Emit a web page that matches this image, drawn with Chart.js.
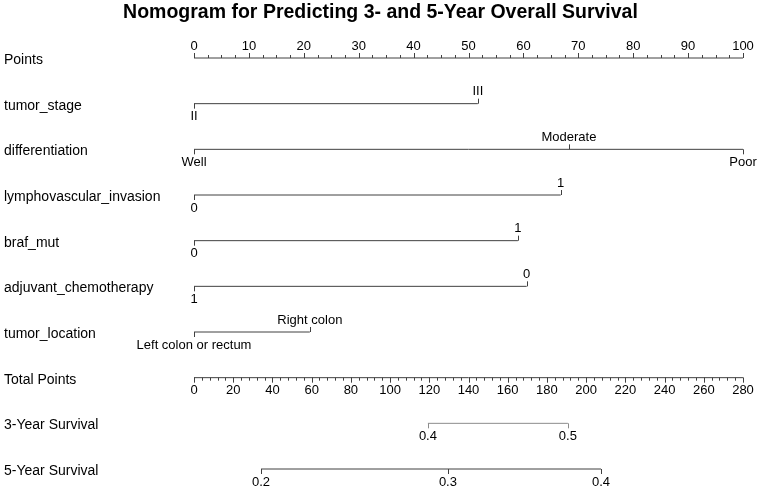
<!DOCTYPE html>
<html>
<head>
<meta charset="utf-8">
<script src="https://cdn.jsdelivr.net/npm/chart.js@4/dist/chart.umd.min.js"></script>
<style>
  html, body { margin: 0; padding: 0; background: #fff; }
  #wrap { width: 761px; height: 489px; }
</style>
</head>
<body>
<div id="wrap"><canvas id="nomoChart" width="761" height="489"></canvas></div>
<script>
const titleText = 'Nomogram for Predicting 3- and 5-Year Overall Survival';
const rowLabels = ['Points', 'tumor_stage', 'differentiation', 'lymphovascular_invasion', 'braf_mut',
    'adjuvant_chemotherapy', 'tumor_location', 'Total Points', '3-Year Survival', '5-Year Survival'];

// points scale
const pointsTicks = [0, 10, 20, 30, 40, 50, 60, 70, 80, 90, 100];
const totalTicks = [0, 20, 40, 60, 80, 100, 120, 140, 160, 180, 200, 220, 240, 260, 280];

// predictors: level names and their points
const tumorStageLevels = ['II', 'III'];
const tumorStagePoints = [0, 51.7];
const diffLevels = ['Well', 'Moderate', 'Poor'];
const diffPoints = [0, 68.3, 100];
const lviLevels = ['0', '1'];
const lviPoints = [0, 66.8];
const brafLevels = ['0', '1'];
const brafPoints = [0, 59.0];
const chemoLevels = ['1', '0'];
const chemoPoints = [0, 60.6];
const locationLevels = ['Left colon or rectum', 'Right colon'];
const locationPoints = [0, 21.1];

// survival scales, placed on total points
const surv3Labels = ['0.4', '0.5'];
const surv3Total = [119.3, 190.7];
const surv5Labels = ['0.2', '0.3', '0.4'];
const surv5Total = [34.2, 129.5, 207.6];

const predictors = [
    { row: 1, levels: tumorStageLevels, pts: tumorStagePoints },
    { row: 2, levels: diffLevels, pts: diffPoints },
    { row: 3, levels: lviLevels, pts: lviPoints },
    { row: 4, levels: brafLevels, pts: brafPoints },
    { row: 5, levels: chemoLevels, pts: chemoPoints },
    { row: 6, levels: locationLevels, pts: locationPoints }
];
const survival = [
    { row: 8, labels: surv3Labels, total: surv3Total, color: '#8c8c8c' },
    { row: 9, labels: surv5Labels, total: surv5Total, color: '#404040' }
];

const lineColor = '#404040';
const fontFam = '"Liberation Sans", Arial, Helvetica, sans-serif';

function segment(arr, row) {
    return [{ x: Math.min(...arr), y: row }, { x: Math.max(...arr), y: row }];
}

const datasets = [];
datasets.push({ data: segment(pointsTicks, 0), xAxisID: 'x', borderColor: lineColor });
predictors.forEach(p => datasets.push({ data: segment(p.pts, p.row), xAxisID: 'x', borderColor: lineColor }));
datasets.push({ data: segment(totalTicks, 7), xAxisID: 'xt', borderColor: lineColor });
survival.forEach(s => datasets.push({ data: segment(s.total, s.row), xAxisID: 'xt', borderColor: s.color }));
datasets.forEach(d => {
    d.borderWidth = 1;
    d.pointRadius = 0;
    d.clip = false;
    d.showLine = true;
});

const nomoPlugin = {
    id: 'nomo',
    afterDatasetsDraw(chart) {
        const { ctx, scales } = chart;
        const x = scales.x, xt = scales.xt, y = scales.y;
        ctx.save();
        ctx.lineWidth = 1;
        ctx.textAlign = 'center';
        ctx.textBaseline = 'middle';
        ctx.font = '13px ' + fontFam;
        ctx.fillStyle = '#000';

        function tick(px, py, len, color) {
            ctx.strokeStyle = color;
            ctx.beginPath();
            ctx.moveTo(Math.round(px) + 0.5, py);
            ctx.lineTo(Math.round(px) + 0.5, py + len);
            ctx.stroke();
        }

        // Points axis (labels above)
        const py0 = y.getPixelForValue(0);
        for (let v = 0; v <= 100; v += 2.5) tick(x.getPixelForValue(v), py0, -3, lineColor);
        pointsTicks.forEach(v => {
            const px = x.getPixelForValue(v);
            tick(px, py0, -5, lineColor);
            ctx.fillText(String(v), px, py0 - 12);
        });

        // predictors, labels alternate below / above
        predictors.forEach(p => {
            const py = y.getPixelForValue(p.row);
            p.levels.forEach((lab, i) => {
                const px = x.getPixelForValue(p.pts[i]);
                const up = i % 2 === 1;
                tick(px, py, up ? -5 : 5, lineColor);
                ctx.fillText(lab, px, up ? py - 12 : py + 13);
            });
        });

        // Total points axis (labels below)
        const py7 = y.getPixelForValue(7);
        for (let v = 0; v <= 280; v += 4) tick(xt.getPixelForValue(v), py7, 3, lineColor);
        totalTicks.forEach(v => {
            const px = xt.getPixelForValue(v);
            tick(px, py7, 5, lineColor);
            ctx.fillText(String(v), px, py7 + 13);
        });

        // survival scales
        survival.forEach(s => {
            const py = y.getPixelForValue(s.row);
            s.labels.forEach((lab, i) => {
                const px = xt.getPixelForValue(s.total[i]);
                tick(px, py, 5, s.color);
                ctx.fillText(lab, px, py + 13);
            });
        });

        // title
        ctx.font = 'bold 19.5px ' + fontFam;
        ctx.fillText(titleText, chart.width / 2, 13);
        ctx.restore();
    }
};

new Chart(document.getElementById('nomoChart'), {
    type: 'line',
    data: { datasets: datasets },
    options: {
        responsive: false,
        animation: false,
        events: [],
        layout: { padding: { left: 4, right: 18, top: 58, bottom: 20 } },
        plugins: { legend: { display: false }, tooltip: { enabled: false }, title: { display: false } },
        scales: {
            x: { type: 'linear', min: 0, max: 100, display: false },
            xt: { type: 'linear', min: 0, max: 280, display: false },
            y: {
                type: 'linear',
                min: 0,
                max: 9,
                reverse: true,
                grid: { display: false },
                border: { display: false },
                afterFit: s => { s.width = 190; },
                ticks: {
                    stepSize: 1,
                    autoSkip: false,
                    crossAlign: 'far',
                    labelOffset: 2,
                    color: '#000',
                    font: { size: 14, family: fontFam },
                    callback: v => rowLabels[v]
                }
            }
        }
    },
    plugins: [nomoPlugin]
});
</script>
</body>
</html>
